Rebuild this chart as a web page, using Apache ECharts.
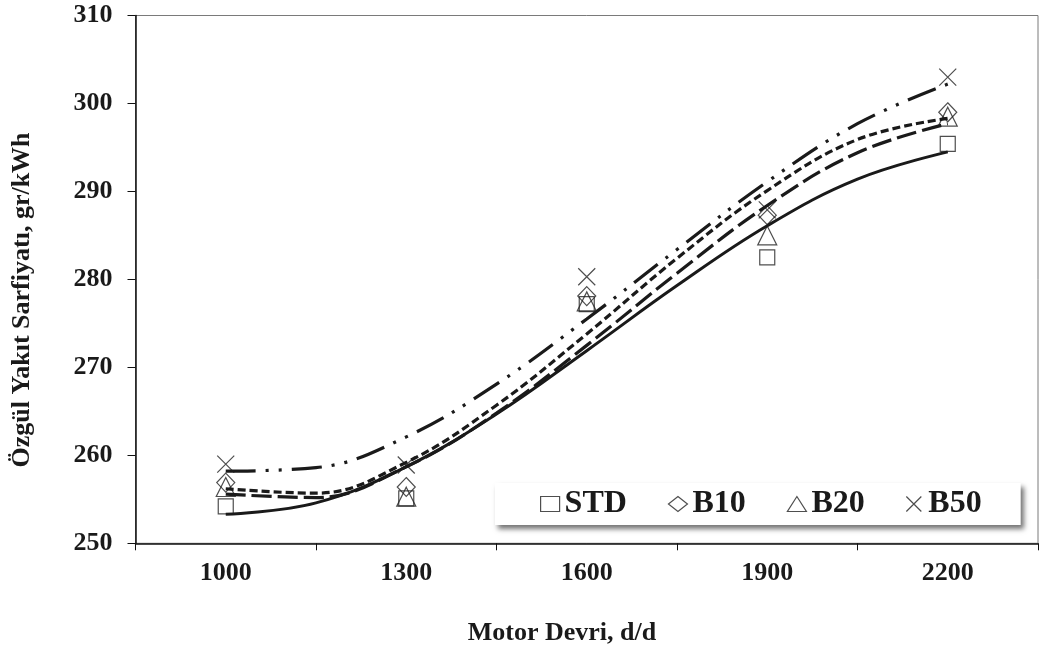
<!DOCTYPE html>
<html>
<head>
<meta charset="utf-8">
<script src="https://cdn.jsdelivr.net/npm/echarts@6/dist/echarts.min.js"></script>
<style>
html,body{margin:0;padding:0;background:#fff;}
#chart{width:1041px;height:655px;}
</style>
</head>
<body>
<div id="chart"></div>
<script>
// ---- data ----
const categories = ['1000', '1300', '1600', '1900', '2200'];
const rpm = [1000, 1300, 1600, 1900, 2200];
const STD = [254.2, 255.1, 277.2, 282.5, 295.4];
const B10 = [256.9, 256.4, 278.1, 287.3, 299.0];
const B20 = [256.4, 255.3, 277.5, 285.0, 298.5];
const B50 = [259.0, 258.9, 280.3, 287.9, 303.0];

// trend curves
const trendRpm = [1000, 1150, 1300, 1450, 1600, 1750, 1900, 2050, 2200];
const STD_trend = [253.3, 254.6, 258.7, 264.7, 271.9, 279.3, 286.1, 291.4, 294.5];
const B10_trend = [256.2, 255.7, 259.2, 265.7, 273.8, 282.4, 290.1, 295.9, 298.3];
const B20_trend = [255.6, 255.2, 258.7, 264.8, 272.5, 280.7, 288.4, 294.4, 297.7];
const B50_trend = [258.2, 258.6, 262.1, 268.1, 275.5, 283.4, 291.1, 297.7, 302.2];

const yTicks = [250, 260, 270, 280, 290, 300, 310];
const seriesNames = ['STD', 'B10', 'B20', 'B50'];
const yTitle = 'Özgül Yakıt Sarfiyatı, gr/kWh';
const xTitle = 'Motor Devri, d/d';

// ---- styling ----
const FONT = "'Liberation Serif', 'Times New Roman', serif";
const INK = '#1a1a1a';
const pairs = (xs, ys) => xs.map((x, i) => [x, ys[i]]);

const markerStyle = { color: 'transparent', borderColor: '#222', borderWidth: 1.2 };
const symbols = {
  STD: { symbol: 'rect', size: [15, 15] },
  B10: { symbol: 'diamond', size: [18, 19] },
  B20: { symbol: 'triangle', size: [19, 19] },
  B50: { symbol: 'path://M0,0L10,10M10,0L0,10', size: [17, 17] }
};
const lineStyles = {
  STD: { type: 'solid', width: 3 },
  B10: { type: [8, 4], width: 3.2 },
  B20: { type: [20, 6], width: 3.2 },
  B50: { type: [30, 10, 3, 10, 3, 10], width: 3.2 }
};
const pointData = { STD: STD, B10: B10, B20: B20, B50: B50 };
const trendData = { STD: STD_trend, B10: B10_trend, B20: B20_trend, B50: B50_trend };

const series = [];
seriesNames.forEach(n => {
  series.push({
    name: n + ' trend',
    type: 'line',
    xAxisIndex: 1,
    data: pairs(trendRpm, trendData[n]),
    smooth: 0.4,
    showSymbol: false,
    symbol: 'none',
    lineStyle: Object.assign({ color: INK }, lineStyles[n]),
    silent: true,
    z: 3
  });
});
seriesNames.forEach(n => {
  series.push({
    name: n,
    type: 'scatter',
    xAxisIndex: 1,
    data: pairs(rpm, pointData[n]),
    symbol: symbols[n].symbol,
    symbolSize: symbols[n].size,
    itemStyle: markerStyle,
    z: 2
  });
});

const chart = echarts.init(document.getElementById('chart'), null, { renderer: 'canvas' });
chart.setOption({
  animation: false,
  backgroundColor: '#fff',
  textStyle: { fontFamily: FONT },
  grid: {
    left: 135.5, right: 3, top: 15.5, bottom: 111.7,
    show: true, borderColor: '#7a7a7a', borderWidth: 1, backgroundColor: 'transparent'
  },
  legend: {
    data: seriesNames,
    left: 495, top: 483,
    orient: 'horizontal',
    padding: [5, 39, 5, 45],
    itemWidth: 19, itemHeight: 15, itemGap: 41,
    backgroundColor: '#ffffff',
    shadowColor: 'rgba(0,0,0,0.55)', shadowBlur: 5, shadowOffsetX: 3, shadowOffsetY: 4,
    itemStyle: { color: 'transparent', borderColor: '#222', borderWidth: 1.2 },
    textStyle: { fontFamily: FONT, fontWeight: 'bold', fontSize: 32, color: INK },
    selectedMode: false,
    z: 10
  },
  xAxis: [
    {
      type: 'category',
      data: categories,
      boundaryGap: true,
      axisLine: { show: true, lineStyle: { color: '#111', width: 1.5 } },
      axisTick: { show: true, length: 7, lineStyle: { color: '#111', width: 1 } },
      axisLabel: { margin: 17, fontFamily: FONT, fontWeight: 'bold', fontSize: 26, color: INK },
      splitLine: { show: false }
    },
    {
      type: 'value',
      min: 850, max: 2350,
      show: false,
      splitLine: { show: false }
    }
  ],
  yAxis: {
    type: 'value',
    min: yTicks[0], max: yTicks[yTicks.length - 1], interval: 10,
    axisLine: { show: true, lineStyle: { color: '#111', width: 1.5 } },
    axisTick: { show: true, length: 8, lineStyle: { color: '#111', width: 1 } },
    axisLabel: { margin: 23, fontFamily: FONT, fontWeight: 'bold', fontSize: 26, color: INK },
    splitLine: { show: false }
  },
  graphic: [
    {
      type: 'text', x: 22, y: 300, rotation: Math.PI / 2,
      style: { text: yTitle, fontFamily: FONT, fontWeight: 'bold', fontSize: 26, fill: INK,
               align: 'center', verticalAlign: 'middle' }
    },
    {
      type: 'text', x: 562, y: 633,
      style: { text: xTitle, fontFamily: FONT, fontWeight: 'bold', fontSize: 26, fill: INK,
               align: 'center', verticalAlign: 'middle' }
    }
  ],
  series: series
});
</script>
</body>
</html>
